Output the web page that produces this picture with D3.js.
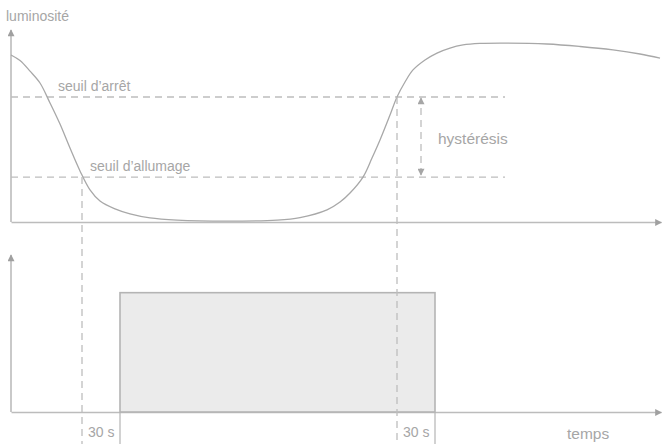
<!DOCTYPE html>
<html>
  <head>
    <meta charset="utf-8" />
    <title>Hystérésis</title>
    <script src="https://cdn.jsdelivr.net/npm/d3@7"></script>
    <style type="text/css">
      html, body {
        margin: 0;
        padding: 0;
        background: #fff;
      }
      svg text {
        font-family: "Liberation Sans", Arial, sans-serif;
        font-size: 14px;
        fill: #a6a6a6;
      }
      svg text.big {
        font-size: 15.5px;
      }
      .axis path {
        stroke: #bcbcbc;
        stroke-width: 1.6px;
      }
      .dashed {
        stroke: #bdbdbd;
        stroke-width: 1.3px;
        stroke-dasharray: 7, 5;
        fill: none;
      }
    </style>
  </head>
  <body>
    <svg id="chart" width="662" height="444"></svg>

    <script type="text/javascript">

    // luminosité (t en unités arbitraires, 0-100)
    var lumT = [0, 9, 19, 29, 39, 49, 59, 69, 79, 89, 104, 119, 139, 166, 216, 266, 289, 316, 329, 339, 352, 361, 369, 379, 386, 394, 402, 414, 426, 439, 452, 469, 492, 536, 569, 602, 629, 649];
    var lumV = [87, 84.1, 78.6, 72.4, 62, 51, 38.5, 26.6, 16.7, 10.9, 6.8, 4.2, 2.1, 1, 0.5, 1, 2.3, 6.3, 10.4, 15.1, 23.4, 33.3, 42.7, 55.7, 65.1, 72.9, 79.2, 84.4, 88, 90.6, 92.2, 93, 93.2, 92.7, 91.4, 89.6, 87.5, 85.4];

    // seuils
    var seuils = [
      { nom: "seuil d\u2019arr\u00eat", v: 65.1, tx: 47 },
      { nom: "seuil d\u2019allumage", v: 23.4, tx: 79 }
    ];
    var seuilFin = 494;

    // franchissements et sortie (relais) après 30 s
    var croisements = [71, 386];
    var etatT = [109, 424];
    var etatV = 76;
    var delaiLabel = "30 s";

    var W = 662, H = 444;
    var svg = d3.select('#chart');

    var x = d3.scaleLinear().domain([0, 650]).range([11, 661]);
    var yTop = d3.scaleLinear().domain([0, 100]).range([222, 30]);
    var yBot = d3.scaleLinear().domain([0, 100]).range([412, 255]);

    var defs = svg.append('defs');
    defs.append('marker')
        .attr('id', 'arrow')
        .attr('viewBox', '0 0 10 10')
        .attr('refX', 9).attr('refY', 5)
        .attr('markerWidth', 9).attr('markerHeight', 7)
        .attr('markerUnits', 'userSpaceOnUse')
        .attr('orient', 'auto')
      .append('path')
        .attr('d', 'M0,0 L10,5 L0,10 Z')
        .attr('fill', '#a0a0a0');
    defs.append('marker')
        .attr('id', 'arrowSmall')
        .attr('viewBox', '0 0 10 10')
        .attr('refX', 9).attr('refY', 5)
        .attr('markerWidth', 10).attr('markerHeight', 7)
        .attr('markerUnits', 'userSpaceOnUse')
        .attr('orient', 'auto-start-reverse')
      .append('path')
        .attr('d', 'M0,0 L10,5 L0,10 Z')
        .attr('fill', '#a6a6a6');

    // axes (sans graduations) + flèches
    function drawAxes(yScale) {
      var gx = svg.append('g')
          .attr('class', 'axis')
          .attr('transform', 'translate(0,' + yScale(0) + ')')
          .call(d3.axisBottom(x).tickValues([]).tickSizeOuter(0));
      gx.select('path.domain').attr('marker-end', 'url(#arrow)');

      var gy = svg.append('g')
          .attr('class', 'axis')
          .attr('transform', 'translate(' + x(0) + ',0)')
          .call(d3.axisLeft(yScale).tickValues([]).tickSizeOuter(0));
      // retourner le tracé pour que la flèche soit en haut
      gy.select('path.domain')
          .attr('d', 'M0,' + yScale.range()[0] + 'V' + yScale.range()[1])
          .attr('marker-end', 'url(#arrow)');
    }
    drawAxes(yTop);
    drawAxes(yBot);

    // seuils
    svg.selectAll('.seuil')
        .data(seuils)
        .enter()
        .append('line')
          .attr('class', 'dashed seuil')
          .attr('x1', x(0))
          .attr('x2', x(seuilFin))
          .attr('y1', function(d) { return yTop(d.v); })
          .attr('y2', function(d) { return yTop(d.v); });

    svg.selectAll('.seuil-label')
        .data(seuils)
        .enter()
        .append('text')
          .attr('class', 'seuil-label')
          .attr('x', function(d) { return x(d.tx); })
          .attr('y', function(d) { return yTop(d.v) - 6; })
          .text(function(d) { return d.nom; });

    // courbe de luminosité
    var lum = d3.range(lumT.length).map(function(i) { return [lumT[i], lumV[i]]; });
    svg.append('path')
        .datum(lum)
        .attr('fill', 'none')
        .attr('stroke', '#a8a8a8')
        .attr('stroke-width', 1.3)
        .attr('d', d3.line()
          .x(function(d) { return x(d[0]); })
          .y(function(d) { return yTop(d[1]); })
          .curve(d3.curveCatmullRom.alpha(0.5)));

    // sortie
    svg.append('rect')
        .attr('x', x(etatT[0]))
        .attr('y', yBot(etatV))
        .attr('width', x(etatT[1]) - x(etatT[0]))
        .attr('height', yBot(0) - yBot(etatV))
        .attr('fill', '#ebebeb')
        .attr('stroke', '#b4b4b4')
        .attr('stroke-width', 1.6);

    svg.selectAll('.etat-tick')
        .data(etatT)
        .enter()
        .append('line')
          .attr('class', 'etat-tick')
          .attr('x1', function(d) { return x(d); })
          .attr('x2', function(d) { return x(d); })
          .attr('y1', yBot(0))
          .attr('y2', H)
          .attr('stroke', '#b4b4b4')
          .attr('stroke-width', 1.2);

    // projections des franchissements
    svg.selectAll('.proj')
        .data(croisements)
        .enter()
        .append('line')
          .attr('class', 'dashed proj')
          .attr('x1', function(d) { return x(d); })
          .attr('x2', function(d) { return x(d); })
          .attr('y1', function(d, i) { return yTop(seuils[1 - i].v); })
          .attr('y2', H);

    svg.selectAll('.delai')
        .data(croisements)
        .enter()
        .append('text')
          .attr('class', 'delai')
          .attr('x', function(d) { return x(d) + 6; })
          .attr('y', 437)
          .text(delaiLabel);

    // hystérésis
    svg.append('line')
        .attr('class', 'dashed')
        .attr('x1', x(410)).attr('x2', x(410))
        .attr('y1', yTop(seuils[1].v) - 2)
        .attr('y2', yTop(seuils[0].v) + 1)
        .attr('marker-start', 'url(#arrowSmall)')
        .attr('marker-end', 'url(#arrowSmall)');
    svg.append('text')
        .attr('class', 'big')
        .attr('x', x(427))
        .attr('y', 144)
        .text('hyst\u00e9r\u00e9sis');

    // titres d'axes
    svg.append('text')
        .attr('x', 6)
        .attr('y', 21)
        .text('luminosit\u00e9');
    svg.append('text')
        .attr('class', 'big')
        .attr('x', 567)
        .attr('y', 439)
        .text('temps');

    </script>
  </body>
</html>
